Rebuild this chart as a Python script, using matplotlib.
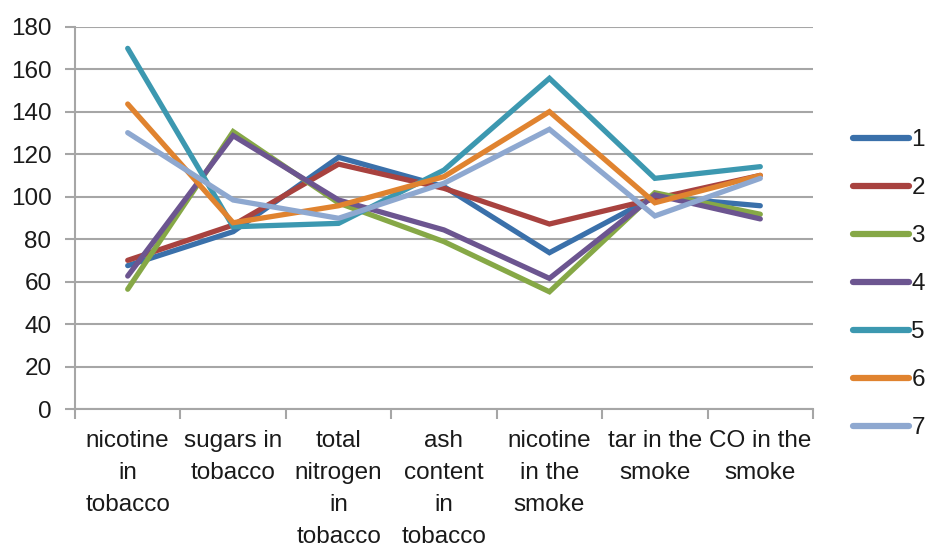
import matplotlib
matplotlib.use("Agg")
import matplotlib.pyplot as plt

categories = ["nicotine\nin\ntobacco", "sugars in\ntobacco", "total\nnitrogen\nin\ntobacco",
              "ash\ncontent\nin\ntobacco", "nicotine\nin the\nsmoke", "tar in the\nsmoke",
              "CO in the\nsmoke"]
series_names = ["1", "2", "3", "4", "5", "6", "7"]

s1 = [67.5, 83.5, 118.5, 104.7, 73.6, 100, 95.7]
s2 = [70, 86.6, 115.3, 103.9, 87.1, 99, 110]
s3 = [56.4, 130.6, 97, 78.8, 55.2, 101.8, 91.7]
s4 = [62.6, 128.7, 98.4, 84.3, 61.5, 100.8, 89.5]
s5 = [169.8, 85.8, 87.4, 112.5, 155.7, 108.6, 114.1]
s6 = [143.6, 87.7, 95.7, 109.4, 140, 97.1, 110]
s7 = [130.1, 98.4, 89.8, 106.3, 131.7, 90.9, 108.6]
series = [s1, s2, s3, s4, s5, s6, s7]

colors = ["#3A70AA", "#A8423F", "#86A846", "#6C5590", "#3C98B0", "#E0832F", "#8EA8D0"]
yticks = list(range(0, 181, 20))

plt.rcParams["font.family"] = ["Liberation Sans", "DejaVu Sans"]
FS = 17.5
TXT = "#1a1a1a"

fig = plt.figure(figsize=(9.28, 5.51), dpi=100)
ax = fig.add_axes([75 / 928, 1 - 409 / 551, (813 - 75) / 928, (409 - 26.7) / 551])

x = list(range(len(categories)))
for vals, name, c in zip(series, series_names, colors):
    ax.plot(x, vals, color=c, lw=3.8, label=name, solid_capstyle="round",
            solid_joinstyle="miter", zorder=3)

grid_c = "#A6A6A6"
ax.set_xlim(-0.5, len(categories) - 0.5)
ax.set_ylim(0, 180)
ax.set_yticks(yticks)
ax.set_yticklabels([str(v) for v in yticks], fontsize=FS, color=TXT)
ax.yaxis.grid(True, color=grid_c, lw=1.5, zorder=0)
ax.set_axisbelow(True)

# category boundaries carry the x tick marks; labels sit at category centres
ax.set_xticks([i - 0.5 for i in range(len(categories) + 1)])
ax.set_xticklabels([])
ax.set_xticks(x, minor=True)
ax.set_xticklabels(categories, minor=True, fontsize=FS, color=TXT, linespacing=1.6,
                   va="top")
ax.tick_params(axis="x", which="minor", length=0, pad=15)
ax.tick_params(axis="x", which="major", length=7, width=1.5, color=grid_c, direction="out")
ax.tick_params(axis="y", length=7, width=1.5, color=grid_c, pad=10)

for side in ["top", "right"]:
    ax.spines[side].set_visible(False)
for side in ["left", "bottom"]:
    ax.spines[side].set_color(grid_c)
    ax.spines[side].set_linewidth(1.5)

leg = fig.legend(loc="upper left", bbox_to_anchor=(853 / 928, 1 - 129 / 551), frameon=False,
                 fontsize=FS, handlelength=2.3, handletextpad=0.1, labelspacing=1.07,
                 borderaxespad=0, borderpad=0)
for t in leg.get_texts():
    t.set_color(TXT)
for h in leg.legend_handles:
    h.set_linewidth(4.5)

fig.savefig("out.png", dpi=100)
